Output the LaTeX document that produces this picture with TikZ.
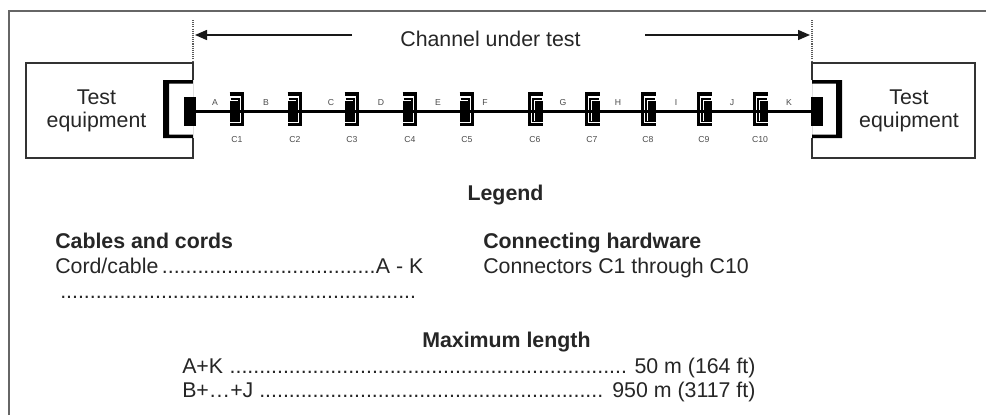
\documentclass[tikz,border=0pt]{standalone}
\usepackage{fontspec}
\setmainfont{Liberation Sans}
\usetikzlibrary{arrows.meta}
\begin{document}
\begin{tikzpicture}[x=0.75pt,y=-0.75pt,
  txt/.style={inner sep=0pt, text=black!85, font=\fontsize{16}{17.25}\selectfont},
  boldtxt/.style={inner sep=0pt, text=black!85, font=\fontsize{16}{17.25}\selectfont\bfseries},
  tinytxt/.style={inner sep=0pt, text=black!70, font=\fontsize{6.5}{7.5}\selectfont},
  equip/.style={draw=black!80, line width=1.1pt},
  frame/.style={draw=black!60, line width=1.6pt},
  cable/.style={line width=1.9pt},
  plugbox/.style={fill=black, inner sep=0pt, minimum width=9pt, minimum height=21.75pt},
  bound/.style={draw=black!65, line width=0.8pt, dash pattern=on 0.8pt off 0.8pt},
  arr/.style={draw=black!90, line width=1.1pt, -{Triangle[length=9pt,width=7.5pt]}},
  jack/.pic={
    \draw[line width=2.3pt] (-7.5,-18) -- (5.5,-18) -- (5.5,12.5) -- (-7.5,12.5);
    \draw[line width=0.8pt] (-6.5,-13) -- (2,-13) -- (2,9.5) -- (-6.5,9.5);
    \fill (-7.5,-11) rectangle (0.5,9.5);
  }]
\useasboundingbox (0,0) rectangle (986,415);
\fill[white] (0,0) rectangle (986,415);

% outer frame
\draw[frame] (9,415) -- (9,11) -- (986,11);

% channel boundaries
\coordinate (bLt) at (193,20);
\coordinate (bLb) at (193,63);
\coordinate (bRt) at (812,20);
\coordinate (bRb) at (812,63);
\draw[bound] (bLt) -- (bLb);
\draw[bound] (bRt) -- (bRb);

\node[txt, anchor=base] (title) at (490.5,46) {Channel under test};
\coordinate (aL) at (352,35);
\coordinate (aLt) at (195,35);
\coordinate (aR) at (645,35);
\coordinate (aRt) at (810,35);
\draw[arr] (aL) -- (aLt);
\draw[arr] (aR) -- (aRt);

% left test equipment
\draw[equip] (193,80) -- (193,63) -- (26,63) -- (26,158) -- (193,158) -- (193,138);
\fill[even odd rule] (163,80) rectangle (193,138) (169,83.5) rectangle (193,134.5);
\node[plugbox] (plugL) at (190,111.5) {};
\node[txt, align=center] (teL) at (96.5,111.3) {Test\\equipment};

% right test equipment
\draw[equip] (812,80) -- (812,63) -- (975,63) -- (975,158) -- (812,158) -- (812,138);
\fill[even odd rule] (812,80) rectangle (842,138) (812,83.5) rectangle (836,134.5);
\node[plugbox] (plugR) at (817,111.5) {};
\node[txt, align=center] (teR) at (909,111.3) {Test\\equipment};

% cable
\draw[cable] (plugL.center) -- (plugR.center);

% connectors
\foreach \n/\x in {1/237,2/295,3/352,4/410,5/467}{
  \coordinate (C\n) at (\x,112);
  \pic at (C\n) {jack};
  \node[tinytxt] (lC\n) at (\x,140) {C\n};
}
\foreach \n/\x in {6/535,7/592,8/648,9/704,10/760}{
  \coordinate (C\n) at (\x,112);
  \pic[xscale=-1] at (C\n) {jack};
  \node[tinytxt] (lC\n) at (\x,140) {C\n};
}

% segment labels
\foreach \s/\x in {A/215,B/266,C/331,D/381,E/438,F/485,G/563,H/618,I/676,J/732,K/789}{
  \node[tinytxt] (seg\s) at (\x,103) {\s};
}

% legend
\node[boldtxt, anchor=base] (legend) at (505.5,200) {Legend};
\node[boldtxt, anchor=base west] (cabh) at (55,248) {Cables and cords};
\node[txt, anchor=base west] (cabl) at (55,273) {\makebox[276pt][s]{Cord/cable\leaders\hbox{.}\hfill A - K}};
\node[txt, anchor=base west] (dots) at (60,298) {\makebox[270.75pt]{\leaders\hbox{.}\hfill}};
\node[boldtxt, anchor=base west] (conh) at (483,248) {Connecting hardware};
\node[txt, anchor=base west] (conl) at (483,273) {Connectors C1 through C10};
\node[boldtxt, anchor=base west] (maxh) at (422,347) {Maximum length};
\node[txt, anchor=base west] (max1) at (182,373) {\makebox[429.75pt][s]{A+K \leaders\hbox{.}\hfill\ 50 m (164 ft)}};
\node[txt, anchor=base west] (max2) at (182,397) {\makebox[429.75pt][s]{B+…+J\leaders\hbox{.}\hfill\ 950 m (3117 ft)}};
\end{tikzpicture}
\end{document}
